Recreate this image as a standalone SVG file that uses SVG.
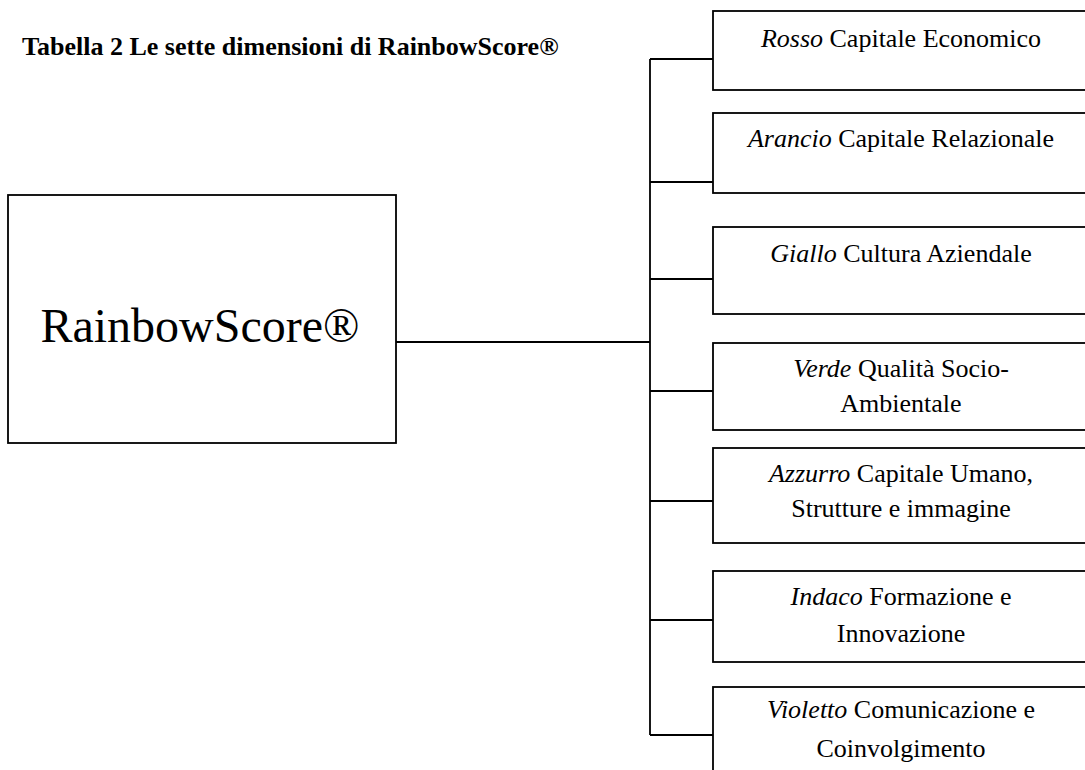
<svg xmlns="http://www.w3.org/2000/svg" width="1085" height="770" viewBox="0 0 1085 770">
<style>
.box{fill:#fff;stroke:#000;stroke-width:1.8}
.ln{stroke:#000;stroke-width:1.8;fill:none}
.t{font-family:"Liberation Serif","Times New Roman",serif;font-size:26px;fill:#000;text-anchor:middle}
.i{font-style:italic}
.title{font-family:"Liberation Serif","Times New Roman",serif;font-size:26px;font-weight:bold;fill:#000}
.main{font-family:"Liberation Serif","Times New Roman",serif;font-size:48px;fill:#000;text-anchor:middle}
</style>
<rect width="1085" height="770" fill="#fff"/>
<text class="title" x="22" y="55">Tabella 2 Le sette dimensioni di RainbowScore®</text>
<g id="connectors">
<path class="ln" d="M396,342H650M650,59V735M650,59H713M650,182H713M650,279H713M650,391H713M650,501H713M650,620H713M650,735H713"/>
</g>
<g id="root"><rect class="box" x="8" y="195" width="388" height="248"/><text class="main" x="200" y="342">RainbowScore®</text></g>
<g id="n1"><rect class="box" x="713" y="11" width="400" height="79"/><text class="t" x="901" y="47"><tspan class="i">Rosso</tspan> Capitale Economico</text></g>
<g id="n2"><rect class="box" x="713" y="113" width="400" height="80"/><text class="t" x="901" y="147"><tspan class="i">Arancio</tspan> Capitale Relazionale</text></g>
<g id="n3"><rect class="box" x="713" y="227" width="400" height="87"/><text class="t" x="901" y="262"><tspan class="i">Giallo</tspan> Cultura Aziendale</text></g>
<g id="n4"><rect class="box" x="713" y="343" width="400" height="87"/><text class="t" x="901" y="377"><tspan class="i">Verde</tspan> Qualità Socio-</text><text class="t" x="901" y="412">Ambientale</text></g>
<g id="n5"><rect class="box" x="713" y="448" width="400" height="95"/><text class="t" x="901" y="482"><tspan class="i">Azzurro</tspan> Capitale Umano,</text><text class="t" x="901" y="517">Strutture e immagine</text></g>
<g id="n6"><rect class="box" x="713" y="571" width="400" height="91"/><text class="t" x="901" y="605"><tspan class="i">Indaco</tspan> Formazione e</text><text class="t" x="901" y="642">Innovazione</text></g>
<g id="n7"><rect class="box" x="713" y="687" width="400" height="120"/><text class="t" x="901" y="718"><tspan class="i">Violetto</tspan> Comunicazione e</text><text class="t" x="901" y="757">Coinvolgimento</text></g>
</svg>
